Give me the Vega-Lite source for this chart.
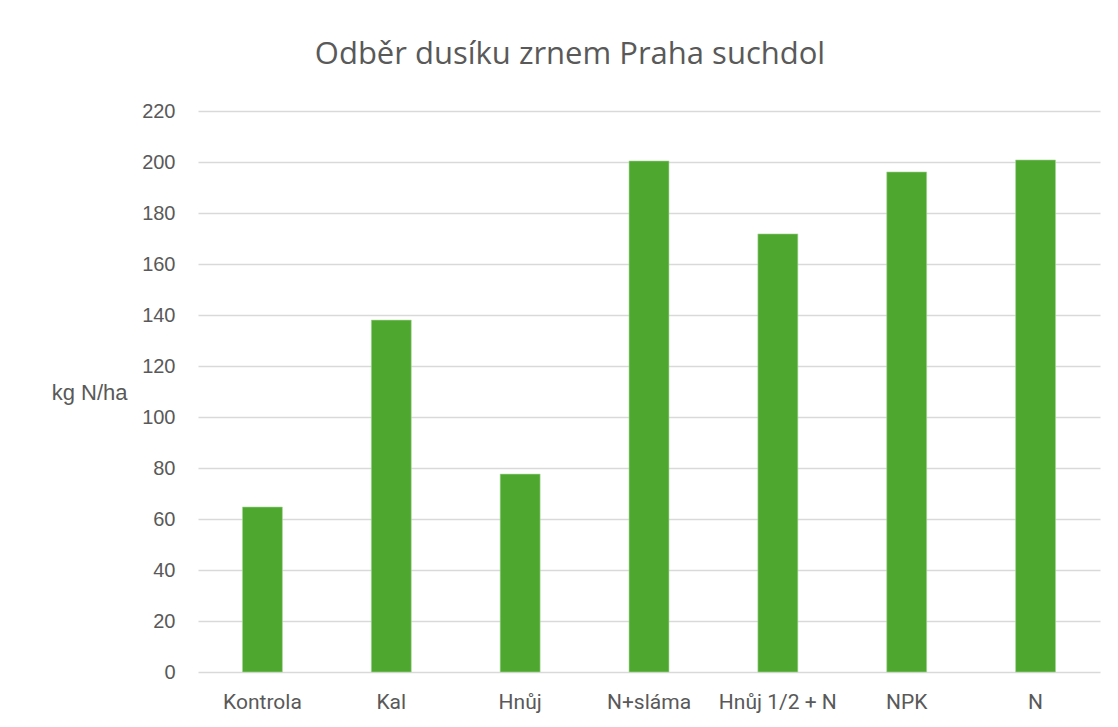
{
  "$schema": "https://vega.github.io/schema/vega-lite/v6.json",
  "width": 902,
  "height": 561,
  "autosize": {"type": "none"},
  "padding": {"left": 198, "top": 111, "right": 18, "bottom": 55},
  "background": "white",
  "title": {
    "text": "Odběr dusíku zrnem Praha suchdol",
    "font": "Open Sans",
    "fontSize": 31,
    "fontWeight": "normal",
    "color": "#595959",
    "anchor": "middle",
    "frame": "group",
    "dx": -79,
    "offset": 30
  },
  "data": {
    "values": [
      {"varianta": "Kontrola", "odber": 64.7},
      {"varianta": "Kal", "odber": 138},
      {"varianta": "Hnůj", "odber": 77.6},
      {"varianta": "N+sláma", "odber": 200.4},
      {"varianta": "Hnůj 1/2 + N", "odber": 171.8},
      {"varianta": "NPK", "odber": 196.1},
      {"varianta": "N", "odber": 200.8}
    ]
  },
  "mark": {"type": "bar", "color": "#4EA72E", "stroke": "#a9d99a", "strokeWidth": 0.6},
  "encoding": {
    "x": {
      "field": "varianta",
      "type": "nominal",
      "sort": null,
      "scale": {"paddingInner": 0.69, "paddingOuter": 0.345},
      "axis": {
        "title": null,
        "labelAngle": 0,
        "labelFont": "Roboto",
        "labelFontSize": 21,
        "labelColor": "#595959",
        "labelPadding": 19,
        "ticks": false,
        "domain": false,
        "grid": false
      }
    },
    "y": {
      "field": "odber",
      "type": "quantitative",
      "scale": {"domain": [0, 220]},
      "axis": {
        "values": [0, 20, 40, 60, 80, 100, 120, 140, 160, 180, 200, 220],
        "title": "kg N/ha",
        "titleAngle": 0,
        "titleFont": "Liberation Sans",
        "titleFontSize": 22,
        "titleFontWeight": "normal",
        "titleColor": "#595959",
        "titleAlign": "right",
        "titleBaseline": "middle",
        "titleX": -71,
        "titleY": 281,
        "labelFont": "Liberation Sans",
        "labelFontSize": 20,
        "labelColor": "#595959",
        "labelPadding": 23,
        "ticks": false,
        "domain": false,
        "grid": true,
        "gridColor": "#d9d9d9",
        "gridWidth": 1.5
      }
    }
  },
  "config": {"view": {"stroke": null}}
}
